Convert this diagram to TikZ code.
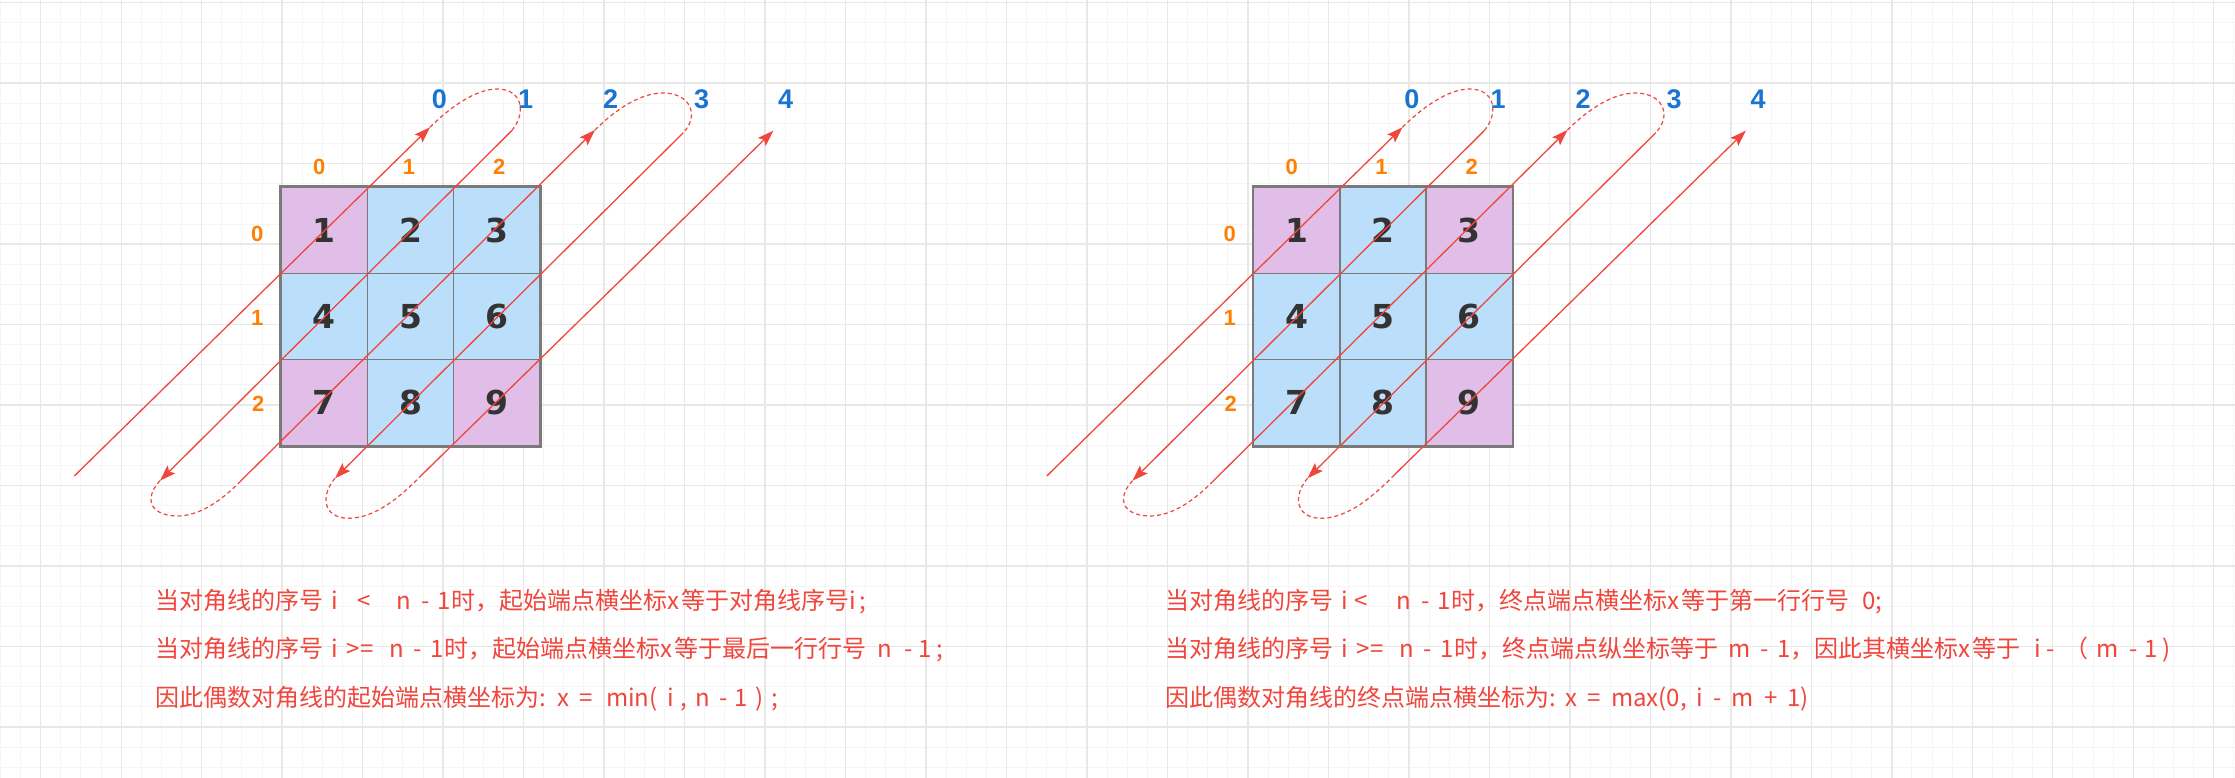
\documentclass[tikz,border=0pt]{standalone}
\usepackage{fontspec}
\newfontfamily\cjk{Noto Sans CJK SC}
\newfontfamily\lsansb{Liberation Sans Bold}
\newfontfamily\dejavu{DejaVu Sans}
\usetikzlibrary{arrows.meta}
\definecolor{redln}{HTML}{F0463C}
\definecolor{redtxt}{HTML}{F0463C}
\definecolor{pur}{HTML}{E1BEE7}
\definecolor{blu}{HTML}{BBDEFB}
\definecolor{cellgray}{HTML}{7A7A7A}
\definecolor{digit}{HTML}{333333}
\definecolor{orng}{HTML}{FF8000}
\definecolor{bluetxt}{HTML}{1B75D0}
\newcommand\gap[1]{\hspace{#1pt}}
\tikzset{
  gminor/.style={draw=black!4, line width=1pt},
  gmajor/.style={draw=black!9, line width=1.4pt},
  cell/.style={draw=cellgray, line width=1.5pt, minimum size=86.33pt, inner sep=0pt,
    text=digit, font=\dejavu\bfseries\fontsize{33}{33}\selectfont},
  olab/.style={text=orng, inner sep=0pt, font=\lsansb\fontsize{22}{22}\selectfont},
  blab/.style={text=bluetxt, inner sep=0pt, font=\lsansb\fontsize{27}{27}\selectfont},
  diagline/.style={draw=redln, line width=1.3pt, -{Stealth[length=16pt,width=11pt,inset=3pt]}},
  dashloop/.style={draw=redln, line width=1.2pt, dash pattern=on 4pt off 3pt},
  txt/.style={anchor=base west, inner sep=0pt, text=redtxt, font=\cjk\fontsize{24}{28}\selectfont},
}
\newcommand\onediag[3]{%
\begin{scope}[xshift=#2pt]
  \foreach \n/\col in {#3}{%
    \pgfmathtruncatemacro\myr{int((\n-1)/3)}%
    \pgfmathtruncatemacro\myc{mod(\n-1,3)}%
    \node[cell, fill=\col] (#1c\n) at ({281+86.33*(\myc+0.5)},{187+86.33*(\myr+0.5)}) {\n};
  }
  \draw[cellgray, line width=2pt] (#1c1.north west) rectangle (#1c9.south east);
  % column / row labels
  \node[olab] (#1col0) at (319.3,166.7) {0};
  \node[olab] (#1col1) at (409,166.7) {1};
  \node[olab] (#1col2) at (499.3,166.7) {2};
  \node[olab] (#1row0) at (257.3,234) {0};
  \node[olab] (#1row1) at (257.3,317.7) {1};
  \node[olab] (#1row2) at (258.3,404.3) {2};
  % diagonal labels
  \node[blab] (#1d0) at (439.3,99.3) {0};
  \node[blab] (#1d1) at (525.7,99.3) {1};
  \node[blab] (#1d2) at (610.7,99.3) {2};
  \node[blab] (#1d3) at (701.7,99.3) {3};
  \node[blab] (#1d4) at (785.5,99.3) {4};
  % diagonal end points
  \coordinate (#1a0s) at (74.3,476);
  \coordinate (#1a0e) at (430,127.3);
  \coordinate (#1a1s) at (511.7,130.7);
  \coordinate (#1a1e) at (160,480.7);
  \coordinate (#1a2s) at (240,481.7);
  \coordinate (#1a2e) at (595,130);
  \coordinate (#1a3s) at (683.3,132.7);
  \coordinate (#1a3e) at (335,478.3);
  \coordinate (#1a4s) at (420,476.7);
  \coordinate (#1a4e) at (773.3,130.7);
  \draw[diagline] (#1a0s) -- (#1a0e);
  \draw[diagline] (#1a1s) -- (#1a1e);
  \draw[diagline] (#1a2s) -- (#1a2e);
  \draw[diagline] (#1a3s) -- (#1a3e);
  \draw[diagline] (#1a4s) -- (#1a4e);
  % dashed turning loops
  \draw[dashloop] (#1a0e) .. controls (448,109) and (475,89) .. (497,89)
     .. controls (522,89) and (527,112) .. (#1a1s);
  \draw[dashloop] (#1a2e) .. controls (615,110) and (640,93) .. (663,93)
     .. controls (690,93) and (700,115) .. (#1a3s);
  \draw[dashloop] (#1a1e) .. controls (155,486) and (151,492) .. (151,500)
     .. controls (151,510) and (163,516) .. (177,516)
     .. controls (200,516) and (222,500) .. (#1a2s);
  \draw[dashloop] (#1a3e) .. controls (330,484) and (326,492) .. (326,500)
     .. controls (326,512) and (336,518.3) .. (348.3,518.3)
     .. controls (375,518.3) and (400,497) .. (#1a4s);
\end{scope}}
\begin{document}
\begin{tikzpicture}[x=1pt,y=-1pt]
  \useasboundingbox (0,0) rectangle (2235,778);
  \fill[white] (0,0) rectangle (2235,778);
  \foreach \k in {0,...,111} \draw[gminor] ({0.5+20.12*\k},0) -- ({0.5+20.12*\k},778);
  \foreach \k in {0,...,38} \draw[gminor] (0,{2.7+20.12*\k}) -- (2235,{2.7+20.12*\k});
  \foreach \k in {0,...,27} \draw[gmajor] ({0.5+20.12*(2+4*\k)},0) -- ({0.5+20.12*(2+4*\k)},778);
  \foreach \k in {0,...,9} \draw[gmajor] (0,{2.7+80.48*\k}) -- (2235,{2.7+80.48*\k});
  \onediag{L}{0}{1/pur,2/blu,3/blu,4/blu,5/blu,6/blu,7/pur,8/blu,9/pur}
  \onediag{R}{972.5}{1/pur,2/blu,3/pur,4/blu,5/blu,6/blu,7/blu,8/blu,9/pur}
  % texts
  \node[txt] (tl1) at (155,609) {当对角线的序号\gap{8}i\gap{20}<\gap{25}n\gap{11}-\gap{7}1\gap{1}时，起始端点横坐标x\gap{2}等于对角线序号i\gap{4};};
  \node[txt] (tl2) at (155,657) {当对角线的序号\gap{8}i\gap{9}>=\gap{16}n\gap{9}-\gap{9}1\gap{1}时，起始端点横坐标x\gap{2}等于最后一行行号\gap{11}n\gap{12}-\gap{6}1\gap{5};};
  \node[txt] (tl3) at (155,706) {因此偶数对角线的起始端点横坐标为:\gap{12}x\gap{10}=\gap{13}min(\gap{10}i\gap{6},\gap{9}n\gap{9}-\gap{7}1\gap{7})\gap{8};};
  \node[txt] (tr1) at (1165,609) {当对角线的序号\gap{8}i\gap{7}<\gap{28}n\gap{11}-\gap{7}1\gap{1}时，终点端点横坐标x\gap{2}等于第一行行号\gap{13}0;};
  \node[txt] (tr2) at (1165,657) {当对角线的序号\gap{8}i\gap{9}>=\gap{16}n\gap{9}-\gap{9}1\gap{1}时，终点端点纵坐标等于\gap{10}m\gap{10}-\gap{8}1，因此其横坐标x\gap{2}等于\gap{14}i\gap{5}-\gap{10}（\gap{8}m\gap{11}-\gap{6}1\gap{5})};
  \node[txt] (tr3) at (1165,706) {因此偶数对角线的终点端点横坐标为:\gap{10}x\gap{10}=\gap{10}max(0,\gap{10}i\gap{10}-\gap{10}m\gap{10}+\gap{10}1)};
\end{tikzpicture}
\end{document}
